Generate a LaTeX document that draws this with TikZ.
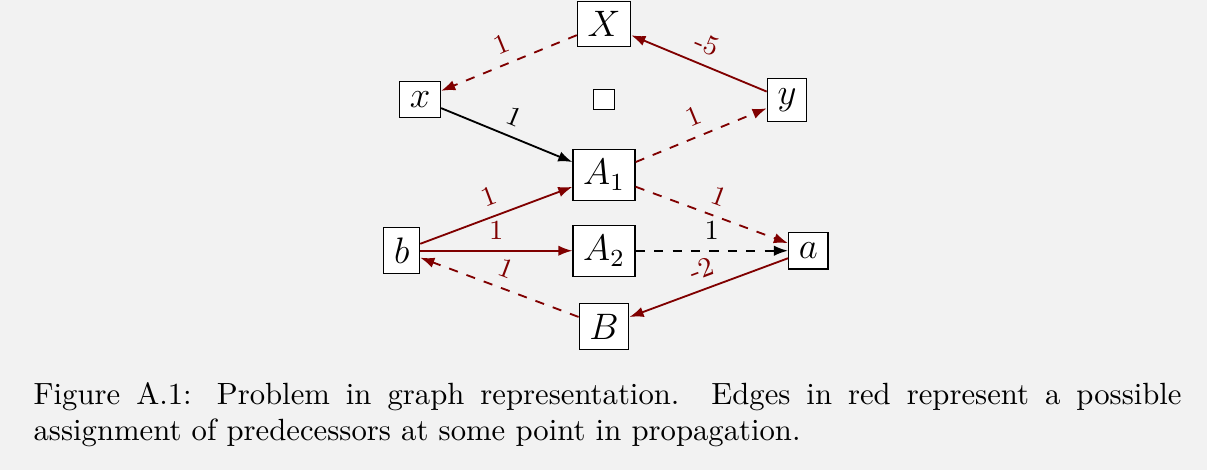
\documentclass[tikz,border=0pt]{standalone}
\usetikzlibrary{arrows.meta}
\definecolor{predred}{HTML}{800000}
\definecolor{pagebg}{HTML}{F2F2F2}

\begin{document}
\begin{tikzpicture}[
    vx/.style={rectangle, draw=black, fill=white, font=\large, inner sep=3.33pt},
    hole/.style={rectangle, draw=black, fill=white, inner sep=3.33pt},
    link/.style={-{Latex[length=4.6pt, width=3.4pt]}, semithick, color=black},
    pred/.style={link, color=predred},
    wt/.style={midway, above, sloped, font=\small},
]
% page
\fill[pagebg] (0,0) rectangle (13.82,-5.38);
\useasboundingbox (0,0) rectangle (13.82,-5.38);

% ================================================== the graph
\node[vx] (X)  at (6.916, -0.275) {$X$};
\node[vx] (x)  at (4.809, -1.139) {$x$};
\node[hole] (sq) at (6.916, -1.139) {};
\node[vx] (y)  at (9.011, -1.145) {$y$};
\node[vx] (A1) at (6.916, -2.004) {$A_1$};
\node[vx] (A2) at (6.916, -2.871) {$A_2$};
\node[vx] (b)  at (4.600, -2.871) {$b$};
\node[vx] (a)  at (9.255, -2.871) {$a$};
\node[vx] (B)  at (6.916, -3.738) {$B$};

% edges, predecessors in red
\draw[pred, dashed] (X) -- (x) node[wt] {1};
\draw[pred] (y) -- (X) node[wt] {-5};
\draw[link] (x) -- (A1) node[wt] {1};
\draw[pred, dashed] (A1) -- (y) node[wt] {1};
\draw[pred] (b) -- (A1) node[wt] {1};
\draw[pred, dashed] (A1) -- (a) node[wt] {1};
\draw[pred] (b) -- (A2) node[wt] {1};
\draw[link, dashed] (A2) -- (a) node[wt] {1};
\draw[pred] (a) -- (B) node[wt] {-2};
\draw[pred, dashed] (B) -- (b) node[wt] {1};

% ================================================== caption
\node[anchor=base west, inner sep=0pt, text width=374pt, align=justify] (cap)
     at (0.378, -4.626)
     {Figure A.1: Problem in graph representation.\ \ Edges in red represent a possible \mbox{assignment} of predecessors at some point in propagation.};

\end{tikzpicture}
\end{document}
